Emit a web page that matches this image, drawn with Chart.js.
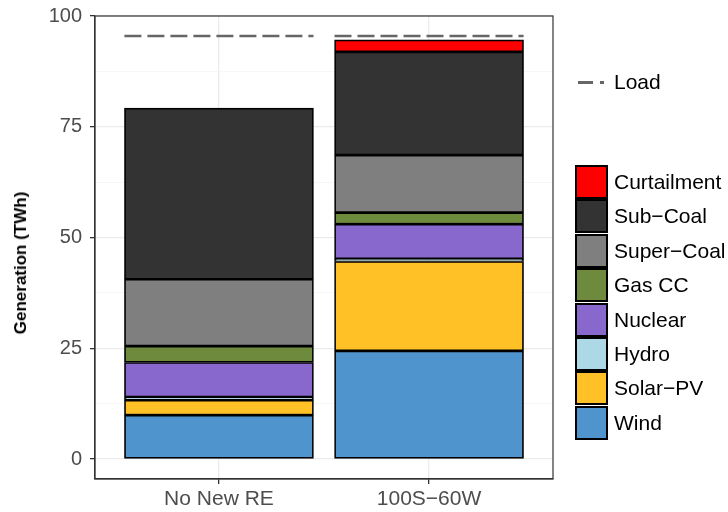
<!DOCTYPE html>
<html>
<head>
<meta charset="utf-8">
<script src="https://cdn.jsdelivr.net/npm/chart.js@4.4.0/dist/chart.umd.min.js"></script>
<style>
    body { margin: 0; background: #fff; font-family: "Liberation Sans", Arial, sans-serif; }
    #wrap { position: relative; width: 728px; height: 512px; }
    #myChart { position: absolute; left: 0; top: 0; }
    .ytitle { position: absolute; left: 21px; top: 263px; transform: translate(-50%, -50%) rotate(-90deg);
        font-weight: bold; font-size: 17px; color: #000; white-space: nowrap; }
    .key { position: absolute; left: 575px; width: 29px; height: 30px; border: 2px solid #000; box-sizing: content-box; }
    .keylabel { position: absolute; left: 614px; font-size: 21px; color: #000; line-height: 24px; white-space: nowrap; }
    .dash { position: absolute; top: 81px; height: 2.5px; background: #666; }
</style>
</head>
<body>
<div id="wrap">
    <canvas id="myChart" width="728" height="512"></canvas>
    <div class="ytitle">Generation (TWh)</div>
    <div id="legend"></div>
</div>

<script>
// kategorien + werte (TWh), von unten nach oben gestapelt
const categories = ['No New RE', '100S\u221260W'];
const sources = ['Wind', 'Solar\u2212PV', 'Hydro', 'Nuclear', 'Gas CC', 'Super\u2212Coal', 'Sub\u2212Coal', 'Curtailment'];
const sourceColors = ['#4F94CD', '#FFC125', '#ADD8E6', '#8968CD', '#6E8B3D', '#7F7F7F', '#333333', '#FF0000'];

const wind = [9.9, 24.4];
const solarPV = [3.4, 20.2];
const hydro = [0.7, 0.6];
const nuclear = [7.8, 7.8];
const gasCC = [3.7, 2.6];
const superCoal = [15.1, 13.0];
const subCoal = [38.6, 23.3];
const curtailment = [0, 2.7];
const load = [95.5, 95.5];

const yTicks = [0, 25, 50, 75, 100];
const yMinorTicks = [12.5, 37.5, 62.5, 87.5];

let seriesValues = [wind, solarPV, hydro, nuclear, gasCC, superCoal, subCoal, curtailment];


let datasets = [];

for (let i = 0; i < sources.length; i++) {
    datasets.push({
        type: 'bar',
        label: sources[i],
        data: seriesValues[i].map((v, j) => ({ x: j, y: v })),
        backgroundColor: sourceColors[i],
        borderColor: '#000',
        borderWidth: 1.7,
        borderSkipped: false,
        barThickness: 189,
        grouped: false,
        stack: 'gen',
        order: 1
    });
}

// load linie: ein gestrichelter abschnitt pro balken
let loadPoints = [];
for (let j = 0; j < load.length; j++) {
    loadPoints.push({ x: j - 0.45, y: load[j] });
    loadPoints.push({ x: j + 0.45, y: load[j] });
    loadPoints.push({ x: j + 0.5, y: null });
}

datasets.push({
    type: 'line',
    label: 'Load',
    data: loadPoints,
    borderColor: '#666666',
    borderWidth: 2.5,
    borderDash: [17, 6],
    pointRadius: 0,
    spanGaps: false,
    stack: 'load',
    order: 0
});


const panelBorder = {
    id: 'panelBorder',
    afterDraw(chart) {
        const a = chart.chartArea;
        const ctx = chart.ctx;
        ctx.save();
        ctx.strokeStyle = '#333';
        ctx.lineWidth = 1.2;
        ctx.strokeRect(a.left, a.top, a.right - a.left, a.bottom - a.top);
        ctx.restore();
    }
};


let myChart = new Chart(document.getElementById('myChart'), {
    type: 'bar',
    data: { datasets: datasets },
    plugins: [panelBorder],
    options: {
        responsive: false,
        animation: false,
        layout: { padding: { top: 16, right: 175, left: 0, bottom: 0 } },
        plugins: { legend: { display: false }, tooltip: { enabled: false } },
        scales: {
            x: {
                type: 'linear',
                min: -0.59,
                max: 1.59,
                offset: false,
                afterBuildTicks: s => { s.ticks = [{ value: 0 }, { value: 1 }]; },
                afterFit: s => { s.height = 33; s.paddingLeft = 0; s.paddingRight = 0; },
                ticks: {
                    callback: v => categories[v],
                    font: { size: 21, family: 'Liberation Sans' },
                    color: '#4D4D4D',
                    padding: 3,
                    maxRotation: 0
                },
                grid: { offset: false, color: '#EBEBEB', lineWidth: 1.3, tickColor: '#333', tickLength: 5 },
                border: { color: '#333', width: 1.2 }
            },
            y: {
                stacked: true,
                min: -4.5,
                max: 100,
                afterBuildTicks: s => {
                    s.ticks = yTicks.concat(yMinorTicks).sort((a, b) => a - b).map(v => ({ value: v }));
                },
                afterFit: s => { s.width = 95; s.paddingTop = 0; s.paddingBottom = 0; },
                ticks: {
                    autoSkip: false,
                    callback: v => (yTicks.includes(v) ? v : ''),
                    font: { size: 20, family: 'Liberation Sans' },
                    color: '#4D4D4D',
                    padding: 8
                },
                grid: {
                    color: c => (yTicks.includes(c.tick.value) ? '#EBEBEB' : '#F5F5F5'),
                    lineWidth: c => (yTicks.includes(c.tick.value) ? 1.3 : 0.8),
                    tickColor: c => (yTicks.includes(c.tick.value) ? '#333' : 'rgba(0,0,0,0)'),
                    tickLength: 5
                },
                border: { color: '#333', width: 1.2 }
            }
        }
    }
});


// legende rechts (html)
function buildLegend() {
    let legend = document.getElementById('legend');
    legend.innerHTML = `
        <div class="dash" style="left:578px; width:15px;"></div>
        <div class="dash" style="left:600px; width:4px;"></div>
        <div class="keylabel" style="top:70px;">Load</div>
    `;
    let order = sources.slice().reverse();
    let cols = sourceColors.slice().reverse();
    for (let i = 0; i < order.length; i++) {
        let top = 165 + i * 34.4;
        legend.innerHTML += `
            <div class="key" style="top:${top}px; background:${cols[i]};"></div>
            <div class="keylabel" style="top:${top + 5}px;">${order[i]}</div>
        `;
    }
}

buildLegend();
</script>
</body>
</html>
